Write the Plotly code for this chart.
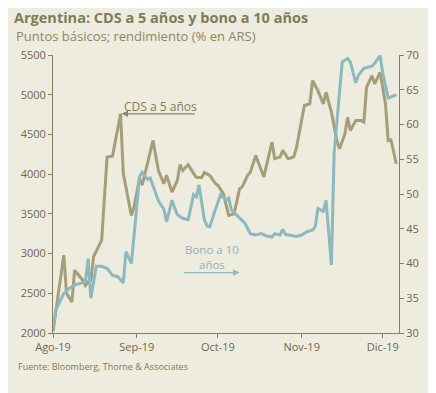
import plotly.graph_objects as go

cds_dates = ["2019-08-01","2019-08-05","2019-08-06","2019-08-08","2019-08-09","2019-08-12","2019-08-13",
             "2019-08-14","2019-08-15","2019-08-16","2019-08-19","2019-08-20","2019-08-21","2019-08-23",
             "2019-08-26","2019-08-27","2019-08-30","2019-08-31","2019-09-02","2019-09-03","2019-09-05",
             "2019-09-07","2019-09-09","2019-09-11","2019-09-12","2019-09-14","2019-09-16","2019-09-17",
             "2019-09-18","2019-09-20","2019-09-22","2019-09-23","2019-09-25","2019-09-26","2019-09-28",
             "2019-09-30","2019-10-01","2019-10-03","2019-10-05","2019-10-07","2019-10-09","2019-10-10",
             "2019-10-12","2019-10-13","2019-10-15","2019-10-16","2019-10-18","2019-10-21","2019-10-22",
             "2019-10-24","2019-10-25","2019-10-27","2019-10-29","2019-10-30","2019-11-02","2019-11-04",
             "2019-11-05","2019-11-07","2019-11-09","2019-11-10","2019-11-12","2019-11-14","2019-11-15",
             "2019-11-17","2019-11-18","2019-11-19","2019-11-21","2019-11-23","2019-11-24","2019-11-25",
             "2019-11-27","2019-11-28","2019-11-30","2019-12-02","2019-12-03","2019-12-04","2019-12-06"]
cds_values = [2020, 2980, 2500, 2390, 2790, 2665, 2600,
              2645, 2660, 2960, 3170, 3670, 4215, 4225,
              4760, 4010, 3480, 3590, 3945, 3860, 4135,
              4425, 4045, 3880, 3985, 3775, 3920, 4120,
              4045, 4120, 4010, 3960, 3955, 4020, 3985,
              3885, 3860, 3755, 3480, 3500, 3815, 3840,
              3985, 4025, 4235, 4150, 3965, 4405, 4195,
              4215, 4300, 4194, 4214, 4320, 4864, 4885,
              5178, 5052, 4885, 5031, 4780, 4424, 4320,
              4508, 4717, 4550, 4675, 4675, 4654, 5094,
              5240, 5136, 5282, 4885, 4424, 4433, 4131]

bono_dates = ["2019-08-01","2019-08-02","2019-08-05","2019-08-07","2019-08-09","2019-08-11","2019-08-13",
              "2019-08-14","2019-08-15","2019-08-17","2019-08-19","2019-08-21","2019-08-23","2019-08-25",
              "2019-08-27","2019-08-28","2019-08-30","2019-09-01","2019-09-02","2019-09-03","2019-09-05",
              "2019-09-06","2019-09-09","2019-09-11","2019-09-12","2019-09-14","2019-09-16","2019-09-18",
              "2019-09-20","2019-09-22","2019-09-23","2019-09-24","2019-09-26","2019-09-27","2019-09-28",
              "2019-09-30","2019-10-02","2019-10-04","2019-10-05","2019-10-06","2019-10-09","2019-10-11",
              "2019-10-13","2019-10-15","2019-10-17","2019-10-19","2019-10-21","2019-10-22","2019-10-24",
              "2019-10-25","2019-10-26","2019-10-28","2019-10-30","2019-11-01","2019-11-03","2019-11-05",
              "2019-11-06","2019-11-07","2019-11-09","2019-11-10","2019-11-12","2019-11-13","2019-11-15",
              "2019-11-16","2019-11-18","2019-11-19","2019-11-21","2019-11-22","2019-11-24","2019-11-27",
              "2019-11-28","2019-11-30","2019-12-01","2019-12-03","2019-12-06"]
bono_values = [30.4, 33.3, 35.7, 36.4, 36.9, 37.1, 37.4,
               40.7, 35.0, 39.6, 39.6, 39.3, 38.3, 38.1,
               37.2, 41.7, 40.0, 48.2, 52.5, 53.1, 52.1,
               52.3, 49.0, 47.8, 46.0, 49.1, 47.0, 46.5,
               46.3, 49.9, 49.6, 51.3, 46.3, 45.4, 45.3,
               47.7, 49.9, 49.1, 49.4, 47.7, 46.5, 45.8,
               44.3, 44.1, 44.3, 43.96, 43.8, 44.3, 44.1,
               44.9, 44.2, 44.1, 43.9, 44.1, 44.6, 44.8,
               45.3, 47.9, 47.5, 49.1, 39.8, 55.9, 64.5,
               69.0, 69.5, 69.0, 66.0, 67.1, 68.1, 68.4,
               68.8, 69.9, 67.4, 63.8, 64.3]

x_tick_vals = ["2019-08-01", "2019-09-01", "2019-10-01", "2019-11-01", "2019-12-01"]
x_tick_text = ["Ago-19", "Sep-19", "Oct-19", "Nov-19", "Dic-19"]

BG = "#eeebdf"
CDS_C = "#a59e78"
BONO_C = "#8cb9be"
AX_C = "#8c7d5f"
TXT_C = "#6e6752"
FONT = "Open Sans"

# page body has an 8px margin; plot area in screenshot: x 53..399, y 54.5..333
OFF = 8
W, H = 436, 393
L, T = 53 - OFF, 55 - OFF
PW, PH = 346, 278
R = W - L - PW
B = H - T - PH


def px_x(X):
    return (X - OFF - L) / PW


def px_y(Y):
    return 1 - (Y - OFF - T) / PH


fig = go.Figure()
fig.add_trace(go.Scatter(x=cds_dates, y=cds_values, mode="lines", name="CDS a 5 años",
                         line=dict(color=CDS_C, width=3), yaxis="y"))
fig.add_trace(go.Scatter(x=bono_dates, y=bono_values, mode="lines", name="Bono a 10 años",
                         line=dict(color=BONO_C, width=3), yaxis="y2"))

fig.update_layout(
    width=W, height=H,
    paper_bgcolor=BG, plot_bgcolor=BG,
    margin=dict(l=L, r=R, t=T, b=B, autoexpand=False),
    showlegend=False,
    font=dict(family=FONT, color=TXT_C, size=11),
    title=dict(text="<b>Argentina: CDS a 5 años y bono a 10 años</b>",
               xref="container", yref="container",
               x=(14 - OFF) / W, y=1 - (17.5 - OFF) / H, xanchor="left", yanchor="middle",
               font=dict(size=14.5, color="#7f7c5a", family=FONT)),
    xaxis=dict(type="date", range=["2019-08-01", "2019-12-07"],
               tickvals=x_tick_vals, ticktext=x_tick_text,
               showgrid=False, zeroline=False, showline=True, linecolor=AX_C, linewidth=1,
               ticks="outside", ticklen=4, tickcolor=AX_C,
               tickfont=dict(size=11, color=TXT_C)),
    yaxis=dict(range=[2000, 5500], dtick=500, showgrid=False, zeroline=False,
               showline=True, linecolor=AX_C, linewidth=1,
               ticks="outside", ticklen=4, tickcolor=AX_C,
               tickfont=dict(size=11, color=TXT_C)),
    yaxis2=dict(range=[30, 70], dtick=5, overlaying="y", side="right", showgrid=False,
                zeroline=False, showline=True, linecolor=AX_C, linewidth=1,
                ticks="outside", ticklen=4, tickcolor=AX_C,
                tickfont=dict(size=11, color=TXT_C)),
)

fig.add_annotation(xref="paper", yref="paper", x=px_x(14), y=px_y(36.5),
                   text="Puntos básicos; rendimiento (% en ARS)", showarrow=False,
                   xanchor="left", yanchor="middle", font=dict(size=13, color="#8b8866", family=FONT))
fig.add_annotation(xref="paper", yref="paper", x=px_x(16), y=px_y(366),
                   text="Fuente: Bloomberg, Thorne & Associates", showarrow=False,
                   xanchor="left", yanchor="middle", font=dict(size=9, color="#7f7c5a", family=FONT))

# CDS label with arrow
fig.add_annotation(x="2019-08-26", y=4760, xref="x", yref="y",
                   ax="2019-09-23", ay=4760, axref="x", ayref="y",
                   text="", showarrow=True, arrowhead=2, arrowsize=1, arrowwidth=1.3,
                   arrowcolor="#8f8866", standoff=1)
fig.add_annotation(x="2019-08-28", y=4760, xref="x", yref="y", text="CDS a 5 años",
                   showarrow=False, xanchor="left", yanchor="bottom", xshift=-4, yshift=-3,
                   font=dict(size=12, color="#7f7c5a", family=FONT))

# Bono label with arrow
fig.add_annotation(x="2019-10-09", y=38.7, xref="x", yref="y2",
                   ax="2019-09-18", ay=38.7, axref="x", ayref="y2",
                   text="", showarrow=True, arrowhead=2, arrowsize=1, arrowwidth=1.3,
                   arrowcolor=BONO_C, standoff=0)
fig.add_annotation(x="2019-09-29", y=39.2, xref="x", yref="y2", text="Bono a 10<br>años",
                   showarrow=False, xanchor="center", yanchor="bottom", yshift=-5,
                   font=dict(size=11.5, color="#8db4ba", family=FONT))

fig.write_html("out.html")
